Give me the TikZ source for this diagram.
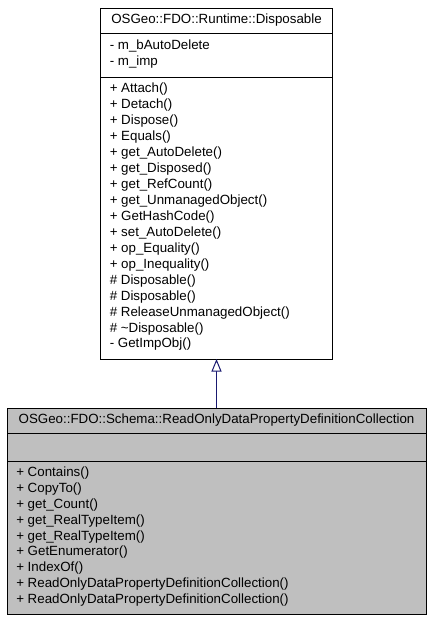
\documentclass[tikz,border=0pt]{standalone}
\usepackage{fontspec}
\setmainfont{Liberation Sans}
\usetikzlibrary{arrows.meta}
\definecolor{edgeblue}{RGB}{25,25,112}
\definecolor{classgray}{RGB}{191,191,191}

\begin{document}
\begin{tikzpicture}[x=0.75pt,y=0.75pt,yscale=-1,xscale=1,
  every node/.style={font=\fontsize{10}{12}\selectfont},
  classbox/.style={draw,line width=0.75pt,anchor=north west,inner sep=0pt,outer sep=0pt},
  member/.style={anchor=west,inner sep=0pt,text height=7.3pt,text depth=2.1pt},
  classname/.style={inner sep=0pt,text height=7.3pt,text depth=2.1pt}]
\useasboundingbox (0,0) rectangle (432,621); %set diagram size to 432 x 621

%Shape: Rectangle [base class]
\node[classbox,minimum width=232*0.75pt,minimum height=351*0.75pt] (disposable) at (100.5,8) {};
%Shape: Rectangle [derived class]
\node[classbox,fill=classgray,minimum width=419*0.75pt,minimum height=206*0.75pt] (readonly) at (7,408) {};

%Straight Lines
\draw[line width=0.75pt]    (100.5,33) -- (332.5,33) ;
%Straight Lines
\draw[line width=0.75pt]    (100.5,77) -- (332.5,77) ;
%Straight Lines
\draw[line width=0.75pt]    (7,433) -- (426,433) ;
%Straight Lines
\draw[line width=0.75pt]    (7,461) -- (426,461) ;

%Inheritance arrow
\draw[edgeblue,line width=0.75pt,-{Triangle[length=12.5*0.75pt,width=10*0.75pt,fill=white]}]    (readonly.north) -- (disposable.south) ;

% Text Node
\draw (216.5,20.5) node[classname] (dname) {OSGeo::FDO::Runtime::Disposable};
% Text Node
\draw (109.5,46.5) node[member] (da1) {- m\_bAutoDelete};
% Text Node
\draw (109.5,62.3) node[member] (da2) {- m\_imp};
% Text Node
\draw (109.5,89.3) node[member] (dm1) {+ Attach()};
% Text Node
\draw (109.5,105.25) node[member] (dm2) {+ Detach()};
% Text Node
\draw (109.5,121.2) node[member] (dm3) {+ Dispose()};
% Text Node
\draw (109.5,137.15) node[member] (dm4) {+ Equals()};
% Text Node
\draw (109.5,153.1) node[member] (dm5) {+ get\_AutoDelete()};
% Text Node
\draw (109.5,169.05) node[member] (dm6) {+ get\_Disposed()};
% Text Node
\draw (109.5,185) node[member] (dm7) {+ get\_RefCount()};
% Text Node
\draw (109.5,200.95) node[member] (dm8) {+ get\_UnmanagedObject()};
% Text Node
\draw (109.5,216.9) node[member] (dm9) {+ GetHashCode()};
% Text Node
\draw (109.5,232.85) node[member] (dm10) {+ set\_AutoDelete()};
% Text Node
\draw (109.5,248.8) node[member] (dm11) {+ op\_Equality()};
% Text Node
\draw (109.5,264.75) node[member] (dm12) {+ op\_Inequality()};
% Text Node
\draw (109.5,280.7) node[member] (dm13) {\# Disposable()};
% Text Node
\draw (109.5,296.65) node[member] (dm14) {\# Disposable()};
% Text Node
\draw (109.5,312.6) node[member] (dm15) {\# ReleaseUnmanagedObject()};
% Text Node
\draw (109.5,328.55) node[member] (dm16) {\# \textasciitilde Disposable()};
% Text Node
\draw (109.5,344.5) node[member] (dm17) {- GetImpObj()};

% Text Node
\draw (216.5,420.5) node[classname] (rname) {OSGeo::FDO::Schema::ReadOnlyDataPropertyDefinitionCollection};
% Text Node
\draw (16,473.5) node[member] (rm1) {+ Contains()};
% Text Node
\draw (16,489.3) node[member] (rm2) {+ CopyTo()};
% Text Node
\draw (16,505.1) node[member] (rm3) {+ get\_Count()};
% Text Node
\draw (16,520.9) node[member] (rm4) {+ get\_RealTypeItem()};
% Text Node
\draw (16,536.7) node[member] (rm5) {+ get\_RealTypeItem()};
% Text Node
\draw (16,552.5) node[member] (rm6) {+ GetEnumerator()};
% Text Node
\draw (16,568.3) node[member] (rm7) {+ IndexOf()};
% Text Node
\draw (16,584.1) node[member] (rm8) {+ ReadOnlyDataPropertyDefinitionCollection()};
% Text Node
\draw (16,599.9) node[member] (rm9) {+ ReadOnlyDataPropertyDefinitionCollection()};

\end{tikzpicture}
\end{document}
